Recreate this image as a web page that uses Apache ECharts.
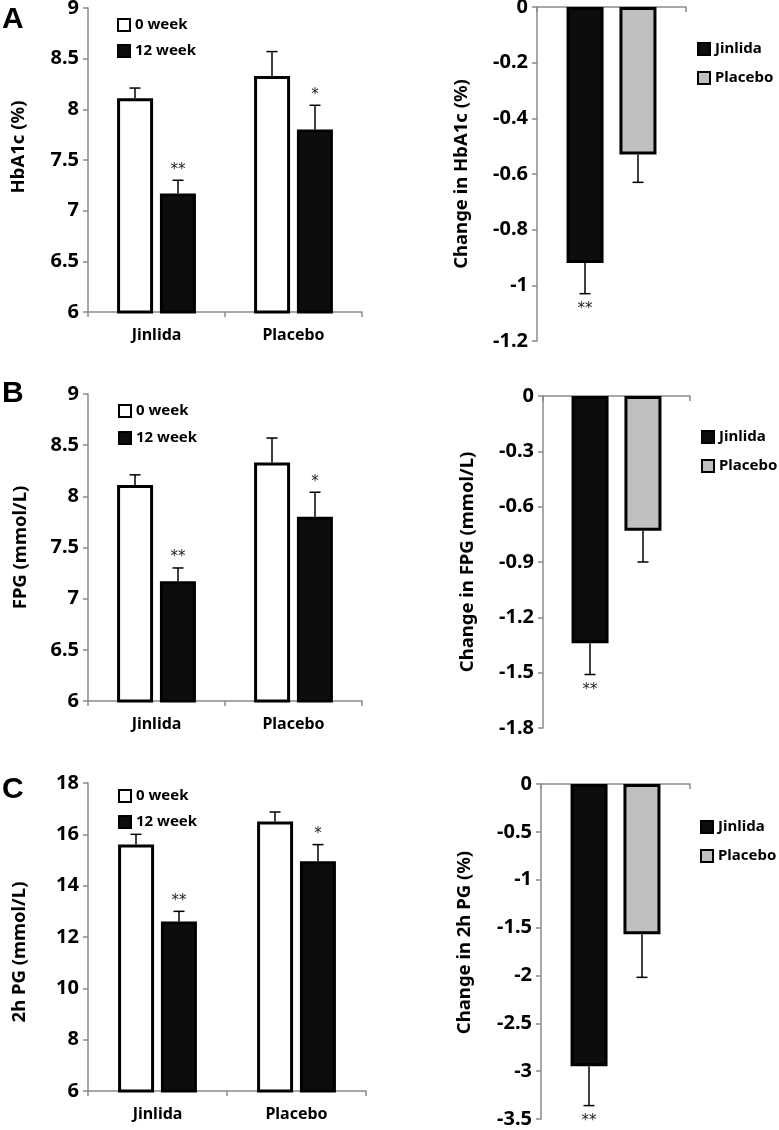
<!DOCTYPE html>
<html>
<head>
<meta charset="utf-8">
<script src="https://cdn.jsdelivr.net/npm/echarts@6/dist/echarts.min.js"></script>
<style>
  html, body { margin: 0; padding: 0; background: #fff; }
  #chart { width: 779px; height: 1130px; }
</style>
</head>
<body>
<div id="chart"></div>
<script>
// groups on the x axis of the left panels
const groups = ['Jinlida', 'Placebo'];

// A: HbA1c (%)
const hba1cWeek0 = [8.11, 8.33];
const hba1cWeek0Err = [0.10, 0.24];
const hba1cWeek12 = [7.17, 7.80];
const hba1cWeek12Err = [0.13, 0.24];
const hba1cChange = [-0.92, -0.53];
const hba1cChangeErr = [0.11, 0.10];

// B: FPG (mmol/L)
const fpgWeek0 = [8.11, 8.33];
const fpgWeek0Err = [0.10, 0.24];
const fpgWeek12 = [7.17, 7.80];
const fpgWeek12Err = [0.13, 0.24];
const fpgChange = [-1.34, -0.73];
const fpgChangeErr = [0.17, 0.17];

// C: 2h PG (mmol/L)
const pgWeek0 = [15.6, 16.5];
const pgWeek0Err = [0.4, 0.37];
const pgWeek12 = [12.6, 14.95];
const pgWeek12Err = [0.4, 0.65];
const pgChange = [-2.95, -1.57];
const pgChangeErr = [0.41, 0.45];

// significance marks
const sigWeek12 = ['**', '*'];
const sigChange = ['**', ''];

const FONT = '"Noto Sans", "Open Sans", sans-serif';
const AXIS_GREY = '#8a8a8a';
const BLACK_BAR = '#0d0d0d';
const GREY_BAR = '#bfbfbf';

const grids = [
  { left: 88, top: 8, width: 274, height: 304 },    // A left
  { left: 537, top: 7, width: 149, height: 334 },   // A right
  { left: 88, top: 394, width: 274, height: 307 },  // B left
  { left: 543, top: 396, width: 147, height: 332 }, // B right
  { left: 88, top: 783, width: 278, height: 308 },  // C left
  { left: 541, top: 784, width: 149, height: 335 }  // C right
];

const axisLine = { show: true, onZero: true, lineStyle: { color: AXIS_GREY, width: 1.5 } };
const axisTick = { show: true, length: 5, lineStyle: { color: AXIS_GREY, width: 1.5 } };

function leftX(i) {
  return {
    type: 'category', gridIndex: i, data: groups,
    axisLine: axisLine, axisTick: axisTick,
    axisLabel: { margin: 15, color: '#000', fontFamily: FONT, fontWeight: 700, fontSize: 16 }
  };
}

function rightX(i) {
  return {
    type: 'category', gridIndex: i, data: [''],
    axisLine: axisLine, axisTick: axisTick,
    axisLabel: { show: false }
  };
}

function yAx(i, min, max, interval, name, gap, pad) {
  return {
    type: 'value', gridIndex: i, min: min, max: max, interval: interval,
    axisLine: axisLine, axisTick: axisTick, splitLine: { show: false },
    axisLabel: { margin: 9, color: '#000', fontFamily: FONT, fontWeight: 700, fontSize: 20 },
    name: name, nameLocation: 'middle', nameRotate: 90, nameGap: gap,
    nameTextStyle: { color: '#000', fontFamily: FONT, fontWeight: 700, fontSize: 18.5, padding: pad || 0 }
  };
}

function bar(i, name, data, fill, width, gap) {
  return {
    type: 'bar', name: name, xAxisIndex: i, yAxisIndex: i, data: data,
    barWidth: width, barGap: gap,
    itemStyle: { color: fill, borderColor: '#000', borderWidth: 3 }
  };
}

// error bar (one side only) + significance star, drawn through the axis scales
function errBars(i, vals, errs, sigs, offset, dir) {
  return {
    type: 'custom', xAxisIndex: i, yAxisIndex: i, z: 3,
    data: vals.map((v, k) => [k, v, errs[k]]),
    renderItem: function (params, api) {
      const k = api.value(0);
      const v = api.value(1);
      const base = api.coord([k, v]);
      const tip = api.coord([k, v + dir * api.value(2)]);
      const x = base[0] + offset;
      const ls = { stroke: '#000', lineWidth: 1.5 };
      const kids = [
        { type: 'line', shape: { x1: x, y1: base[1], x2: x, y2: tip[1] }, style: ls },
        { type: 'line', shape: { x1: x - 5.5, y1: tip[1], x2: x + 5.5, y2: tip[1] }, style: ls }
      ];
      const s = sigs ? sigs[params.dataIndex] : '';
      if (s) {
        kids.push({
          type: 'text',
          style: {
            text: s, x: x, y: dir > 0 ? tip[1] - 3 : tip[1] + 8,
            align: 'center', verticalAlign: dir > 0 ? 'bottom' : 'top',
            fill: '#222', font: '15px "DejaVu Sans", sans-serif'
          }
        });
      }
      return { type: 'group', children: kids };
    }
  };
}

function legend(names, left, top, gap) {
  return {
    data: names, orient: 'vertical', left: left, top: top, itemGap: gap,
    itemWidth: 12, itemHeight: 12, icon: 'rect', selectedMode: false,
    itemStyle: { borderColor: '#000', borderWidth: 2 },
    textStyle: { color: '#000', fontFamily: FONT, fontWeight: 700, fontSize: 15, lineHeight: 16 }
  };
}

const LW = 36, LG = '19%', LOFF = 21.5;   // left panels
const RW = 37, RG = '43%', ROFF = 26.5;   // right panels

const option = {
  animation: false,
  backgroundColor: '#fff',
  grid: grids.map(g => Object.assign({ containLabel: false, outerBoundsMode: 'none' }, g)),
  xAxis: [leftX(0), rightX(1), leftX(2), rightX(3), leftX(4), rightX(5)],
  yAxis: [
    yAx(0, 6, 9, 0.5, 'HbA1c (%)', 60, [0, 0, 0, 26]),
    yAx(1, -1.2, 0, 0.2, 'Change in HbA1c (%)', 66),
    yAx(2, 6, 9, 0.5, 'FPG (mmol/L)', 58),
    yAx(3, -1.8, 0, 0.3, 'Change in FPG (mmol/L)', 66),
    yAx(4, 6, 18, 2, '2h PG (mmol/L)', 59, [0, 30, 0, 0]),
    yAx(5, -3.5, 0, 0.5, 'Change in 2h PG (%)', 67, [0, 0, 0, 18])
  ],
  legend: [
    legend(['0 week', '12 week'], 112, 12, 10),
    legend(['Jinlida', 'Placebo'], 692, 36, 13),
    legend(['0 week', '12 week'], 113, 398, 11),
    legend(['Jinlida', 'Placebo'], 696, 424, 13),
    legend(['0 week', '12 week'], 113, 783, 10),
    legend(['Jinlida', 'Placebo'], 695, 814, 13)
  ],
  graphic: [
    { type: 'text', left: 2, top: 5, style: { text: 'A', font: 'bold 30px "Liberation Sans", sans-serif', fill: '#000' } },
    { type: 'text', left: 2, top: 379, style: { text: 'B', font: 'bold 30px "Liberation Sans", sans-serif', fill: '#000' } },
    { type: 'text', left: 2, top: 775, style: { text: 'C', font: 'bold 30px "Liberation Sans", sans-serif', fill: '#000' } }
  ],
  series: [
    bar(0, '0 week', hba1cWeek0, '#fff', LW, LG),
    bar(0, '12 week', hba1cWeek12, BLACK_BAR, LW, LG),
    errBars(0, hba1cWeek0, hba1cWeek0Err, null, -LOFF, 1),
    errBars(0, hba1cWeek12, hba1cWeek12Err, sigWeek12, LOFF, 1),

    bar(1, 'Jinlida', [hba1cChange[0]], BLACK_BAR, RW, RG),
    bar(1, 'Placebo', [hba1cChange[1]], GREY_BAR, RW, RG),
    errBars(1, [hba1cChange[0]], [hba1cChangeErr[0]], [sigChange[0]], -ROFF, -1),
    errBars(1, [hba1cChange[1]], [hba1cChangeErr[1]], [sigChange[1]], ROFF, -1),

    bar(2, '0 week', fpgWeek0, '#fff', LW, LG),
    bar(2, '12 week', fpgWeek12, BLACK_BAR, LW, LG),
    errBars(2, fpgWeek0, fpgWeek0Err, null, -LOFF, 1),
    errBars(2, fpgWeek12, fpgWeek12Err, sigWeek12, LOFF, 1),

    bar(3, 'Jinlida', [fpgChange[0]], BLACK_BAR, RW, RG),
    bar(3, 'Placebo', [fpgChange[1]], GREY_BAR, RW, RG),
    errBars(3, [fpgChange[0]], [fpgChangeErr[0]], [sigChange[0]], -ROFF, -1),
    errBars(3, [fpgChange[1]], [fpgChangeErr[1]], [sigChange[1]], ROFF, -1),

    bar(4, '0 week', pgWeek0, '#fff', LW, LG),
    bar(4, '12 week', pgWeek12, BLACK_BAR, LW, LG),
    errBars(4, pgWeek0, pgWeek0Err, null, -LOFF, 1),
    errBars(4, pgWeek12, pgWeek12Err, sigWeek12, LOFF, 1),

    bar(5, 'Jinlida', [pgChange[0]], BLACK_BAR, RW, RG),
    bar(5, 'Placebo', [pgChange[1]], GREY_BAR, RW, RG),
    errBars(5, [pgChange[0]], [pgChangeErr[0]], [sigChange[0]], -ROFF, -1),
    errBars(5, [pgChange[1]], [pgChangeErr[1]], [sigChange[1]], ROFF, -1)
  ]
};

const chart = echarts.init(document.getElementById('chart'));
chart.setOption(option);
</script>
</body>
</html>
